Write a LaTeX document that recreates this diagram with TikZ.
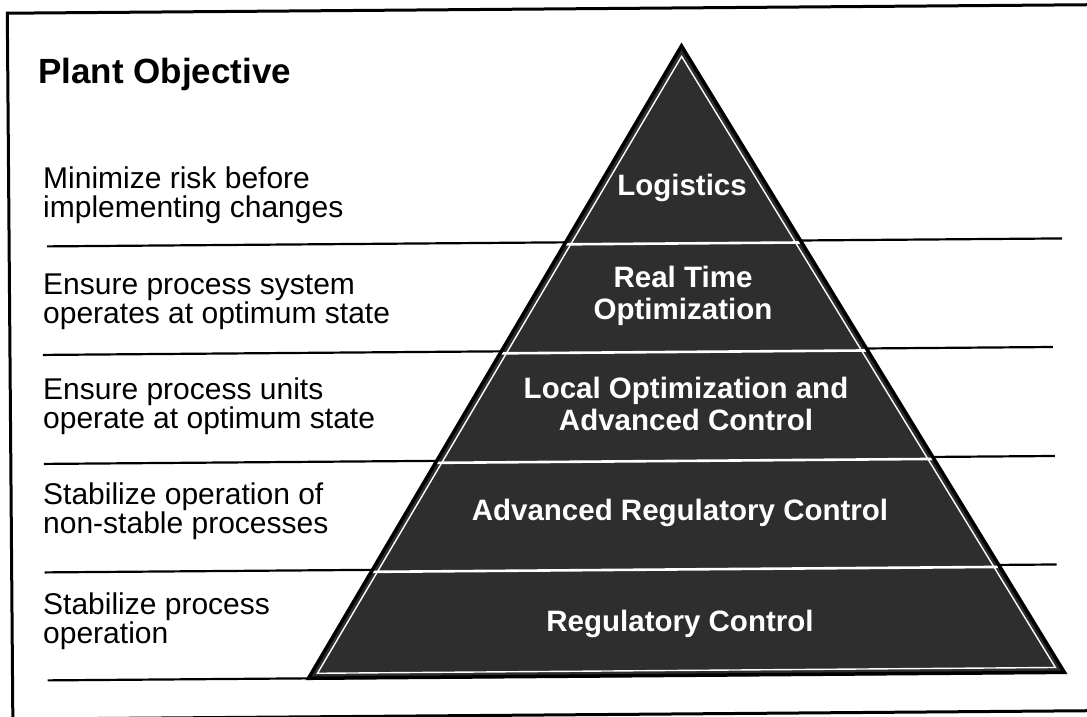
\documentclass[tikz,border=0pt]{standalone}
\usepackage{fontspec}
\setmainfont{Liberation Sans}
\usetikzlibrary{calc}
\begin{document}
\begin{tikzpicture}[x=1pt,y=-1pt,
  frame/.style={line width=3pt},
  rule/.style={line width=2.2pt},
  pyrfill/.style={fill=black!82},
  pyredge/.style={line width=3.5pt, line join=miter},
  bandsep/.style={white, line width=2.6pt},
  objtitle/.style={anchor=base west, inner sep=0pt, font=\bfseries\fontsize{35}{36}\selectfont},
  objtxt/.style={anchor=west, align=left, inner sep=0pt, font=\fontsize{30}{29}\selectfont},
  lvl/.style={text=white, inner sep=0pt, align=center, font=\bfseries\fontsize{29.5}{32}\selectfont}
]
\useasboundingbox (0,0) rectangle (1087,717);
\begin{scope}[rotate around={0.45:(543.5,358.5)}]
  % frame (no right side)
  \draw[frame] (1090,9) -- (10,9) -- (10,720);
  \draw[frame] (10,715) -- (1090,715);
  % separating rules
  \draw[rule] (48,242.5) -- (1063,242.5);
  \draw[rule] (43,351) -- (1053,351);
  \draw[rule] (43,460) -- (1054,460);
  \draw[rule] (43,568.5) -- (1055,568.5);
  \draw[rule] (45,676.5) -- (1063,676.5);
  % pyramid
  \coordinate (apex) at (684,47);
  \coordinate (bl) at (306,676.5);
  \coordinate (br) at (1062,676.5);
  \fill[pyrfill] (apex) -- (bl) -- (br) -- cycle;
  \begin{scope}
    \clip (apex) -- (bl) -- (br) -- cycle;
    \foreach \yy in {242.5,351,460,568.5}
      \draw[bandsep] (300,\yy+2) -- (1070,\yy+2);
    \draw[white, line width=1.4pt] (684,57.5) -- (315,671.5) -- (1053,671.5) -- cycle;
  \end{scope}
  \draw[pyredge] (apex) -- (bl) -- (br) -- cycle;
\end{scope}
% left column
\node[objtitle] (title) at (38,83) {Plant Objective};
\node[objtxt] (o1) at (43,195) {Minimize risk before\\implementing changes};
\node[objtxt] (o2) at (43,301.5) {Ensure process system\\operates at optimum state};
\node[objtxt] (o3) at (43,406.5) {Ensure process units\\operate at optimum state};
\node[objtxt] (o4) at (43,511) {Stabilize operation of\\non-stable processes};
\node[objtxt] (o5) at (43,621.5) {Stabilize process\\operation};
% pyramid levels
\node[lvl] (l1) at (682,188) {Logistics};
\node[lvl] (l2) at (683,296) {Real Time\\Optimization};
\node[lvl] (l3) at (686,404) {Local Optimization and\\Advanced Control};
\node[lvl] (l4) at (680,513) {Advanced Regulatory Control};
\node[lvl] (l5) at (680,624) {Regulatory Control};
\end{tikzpicture}
\end{document}
